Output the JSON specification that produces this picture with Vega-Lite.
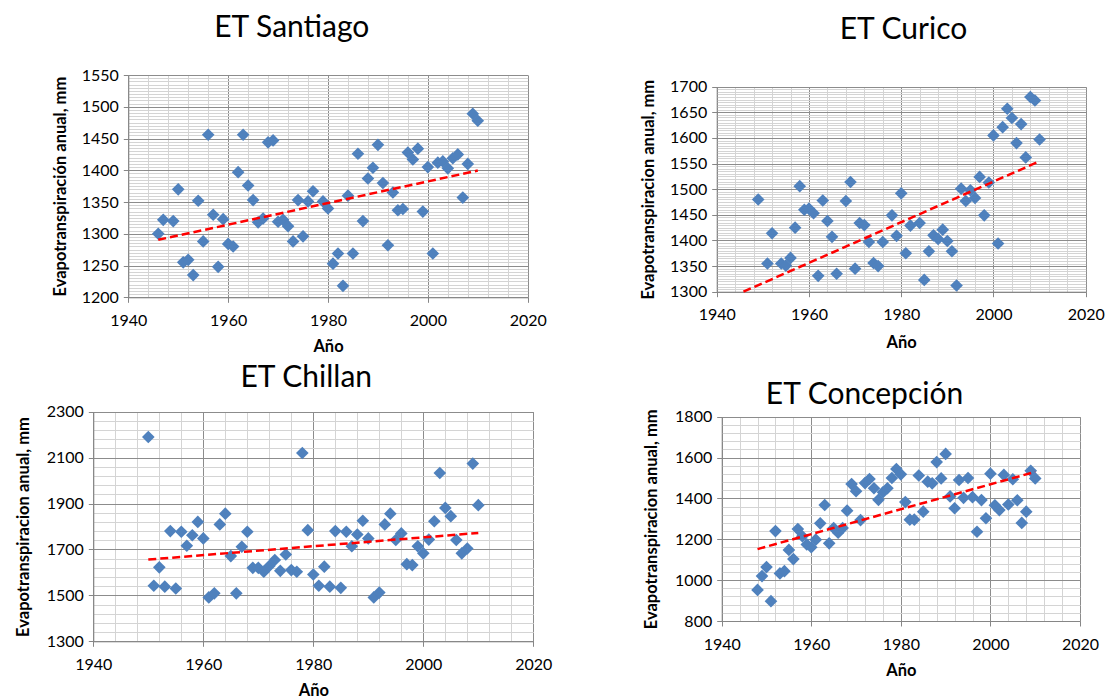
{
  "$schema": "https://vega.github.io/schema/vega-lite/v6.json",
  "width": 1109,
  "height": 699,
  "autosize": {"type": "none"},
  "padding": 0,
  "background": "white",
  "config": {
    "font": "Lato",
    "view": {"stroke": null},
    "axis": {
      "labelFont": "Lato", "titleFont": "Lato", "labelFontSize": 16, "labelColor": "#000000",
      "titleColor": "#000000", "titleFontSize": 16.5, "titleFontWeight": "bold",
      "domainColor": "#868686", "tickColor": "#868686", "tickSize": 5,
      "labelOverlap": false, "labelFlush": false, "labelBound": false, "gridWidth": 1, "gridOpacity": 1
    }
  },
  "datasets": {
    "santiago": [
      {"year":1946,"et":1300},{"year":1947,"et":1322},{"year":1949,"et":1320},{"year":1950,"et":1370},{"year":1951,"et":1255},
      {"year":1952,"et":1259},{"year":1953,"et":1235},{"year":1954,"et":1352},{"year":1955,"et":1288},{"year":1956,"et":1456},
      {"year":1957,"et":1330},{"year":1958,"et":1248},{"year":1959,"et":1323},{"year":1960,"et":1284},{"year":1961,"et":1280},
      {"year":1962,"et":1397},{"year":1963,"et":1456},{"year":1964,"et":1376},{"year":1965,"et":1353},{"year":1966,"et":1318},
      {"year":1967,"et":1324},{"year":1968,"et":1444},{"year":1969,"et":1447},{"year":1970,"et":1319},{"year":1971,"et":1322},
      {"year":1972,"et":1312},{"year":1973,"et":1288},{"year":1974,"et":1353},{"year":1975,"et":1296},{"year":1976,"et":1351},
      {"year":1977,"et":1367},{"year":1979,"et":1351},{"year":1980,"et":1340},{"year":1981,"et":1253},{"year":1982,"et":1269},
      {"year":1983,"et":1218},{"year":1984,"et":1360},{"year":1985,"et":1269},{"year":1986,"et":1426},{"year":1987,"et":1320},
      {"year":1988,"et":1387},{"year":1989,"et":1404},{"year":1990,"et":1440},{"year":1991,"et":1380},{"year":1992,"et":1282},
      {"year":1993,"et":1365},{"year":1994,"et":1337},{"year":1995,"et":1339},{"year":1996,"et":1428},{"year":1997,"et":1417},
      {"year":1998,"et":1434},{"year":1999,"et":1335},{"year":2000,"et":1405},{"year":2001,"et":1269},{"year":2002,"et":1412},
      {"year":2003,"et":1414},{"year":2004,"et":1403},{"year":2005,"et":1419},{"year":2006,"et":1425},{"year":2007,"et":1357},
      {"year":2008,"et":1410},{"year":2009,"et":1489},{"year":2010,"et":1478}
    ],
    "curico": [
      {"year":1949,"et":1480},{"year":1951,"et":1355},{"year":1952,"et":1414},{"year":1954,"et":1355},{"year":1955,"et":1351},
      {"year":1956,"et":1366},{"year":1957,"et":1425},{"year":1958,"et":1506},{"year":1959,"et":1460},{"year":1960,"et":1462},
      {"year":1961,"et":1453},{"year":1962,"et":1331},{"year":1963,"et":1478},{"year":1964,"et":1438},{"year":1965,"et":1407},
      {"year":1966,"et":1335},{"year":1968,"et":1477},{"year":1969,"et":1514},{"year":1970,"et":1345},{"year":1971,"et":1434},
      {"year":1972,"et":1430},{"year":1973,"et":1397},{"year":1974,"et":1356},{"year":1975,"et":1350},{"year":1976,"et":1397},
      {"year":1978,"et":1449},{"year":1979,"et":1409},{"year":1980,"et":1492},{"year":1981,"et":1375},{"year":1982,"et":1429},
      {"year":1984,"et":1434},{"year":1985,"et":1323},{"year":1986,"et":1379},{"year":1987,"et":1410},{"year":1988,"et":1403},
      {"year":1989,"et":1421},{"year":1990,"et":1399},{"year":1991,"et":1379},{"year":1992,"et":1312},{"year":1993,"et":1501},
      {"year":1994,"et":1477},{"year":1995,"et":1498},{"year":1996,"et":1483},{"year":1997,"et":1524},{"year":1998,"et":1449},
      {"year":1999,"et":1513},{"year":2000,"et":1605},{"year":2001,"et":1394},{"year":2002,"et":1621},{"year":2003,"et":1657},
      {"year":2004,"et":1639},{"year":2005,"et":1590},{"year":2006,"et":1627},{"year":2007,"et":1562},{"year":2008,"et":1680},
      {"year":2009,"et":1673},{"year":2010,"et":1597}
    ],
    "chillan": [
      {"year":1950,"et":2190},{"year":1951,"et":1542},{"year":1952,"et":1622},{"year":1953,"et":1538},{"year":1954,"et":1780},
      {"year":1955,"et":1530},{"year":1956,"et":1777},{"year":1957,"et":1716},{"year":1958,"et":1762},{"year":1959,"et":1820},
      {"year":1960,"et":1748},{"year":1961,"et":1491},{"year":1962,"et":1509},{"year":1963,"et":1809},{"year":1964,"et":1856},
      {"year":1965,"et":1671},{"year":1966,"et":1509},{"year":1967,"et":1712},{"year":1968,"et":1777},{"year":1969,"et":1620},
      {"year":1970,"et":1620},{"year":1971,"et":1603},{"year":1972,"et":1628},{"year":1973,"et":1654},{"year":1974,"et":1607},
      {"year":1975,"et":1678},{"year":1976,"et":1610},{"year":1977,"et":1603},{"year":1978,"et":2120},{"year":1979,"et":1784},
      {"year":1980,"et":1591},{"year":1981,"et":1542},{"year":1982,"et":1625},{"year":1983,"et":1538},{"year":1984,"et":1780},
      {"year":1985,"et":1533},{"year":1986,"et":1777},{"year":1987,"et":1714},{"year":1988,"et":1765},{"year":1989,"et":1825},
      {"year":1990,"et":1748},{"year":1991,"et":1491},{"year":1992,"et":1512},{"year":1993,"et":1809},{"year":1994,"et":1856},
      {"year":1995,"et":1741},{"year":1996,"et":1770},{"year":1997,"et":1636},{"year":1998,"et":1632},{"year":1999,"et":1714},
      {"year":2000,"et":1683},{"year":2001,"et":1743},{"year":2002,"et":1823},{"year":2003,"et":2033},{"year":2004,"et":1881},
      {"year":2005,"et":1845},{"year":2006,"et":1741},{"year":2007,"et":1683},{"year":2008,"et":1704},{"year":2009,"et":2074},
      {"year":2010,"et":1893}
    ],
    "concepcion": [
      {"year":1948,"et":952},{"year":1949,"et":1020},{"year":1950,"et":1064},{"year":1951,"et":897},{"year":1952,"et":1240},
      {"year":1953,"et":1033},{"year":1954,"et":1044},{"year":1955,"et":1148},{"year":1956,"et":1103},{"year":1957,"et":1250},
      {"year":1958,"et":1215},{"year":1959,"et":1175},{"year":1960,"et":1161},{"year":1961,"et":1198},{"year":1962,"et":1278},
      {"year":1963,"et":1368},{"year":1964,"et":1180},{"year":1965,"et":1255},{"year":1966,"et":1232},{"year":1967,"et":1255},
      {"year":1968,"et":1340},{"year":1969,"et":1470},{"year":1970,"et":1435},{"year":1971,"et":1294},{"year":1972,"et":1475},
      {"year":1973,"et":1495},{"year":1974,"et":1450},{"year":1975,"et":1393},{"year":1976,"et":1430},{"year":1977,"et":1450},
      {"year":1978,"et":1500},{"year":1979,"et":1544},{"year":1980,"et":1518},{"year":1981,"et":1382},{"year":1982,"et":1296},
      {"year":1983,"et":1296},{"year":1984,"et":1512},{"year":1985,"et":1335},{"year":1986,"et":1482},{"year":1987,"et":1474},
      {"year":1988,"et":1578},{"year":1989,"et":1498},{"year":1990,"et":1618},{"year":1991,"et":1410},{"year":1992,"et":1352},
      {"year":1993,"et":1490},{"year":1994,"et":1403},{"year":1995,"et":1500},{"year":1996,"et":1406},{"year":1997,"et":1237},
      {"year":1998,"et":1392},{"year":1999,"et":1303},{"year":2000,"et":1521},{"year":2001,"et":1366},{"year":2002,"et":1343},
      {"year":2003,"et":1515},{"year":2004,"et":1370},{"year":2005,"et":1494},{"year":2006,"et":1391},{"year":2007,"et":1280},
      {"year":2008,"et":1335},{"year":2009,"et":1535},{"year":2010,"et":1498}
    ],
    "trend_santiago": [{"year":1946,"et":1290.5},{"year":2010,"et":1399.5}],
    "trend_curico": [{"year":1945.8,"et":1300},{"year":2010,"et":1554.5}],
    "trend_chillan": [{"year":1950,"et":1656},{"year":2010,"et":1772}],
    "trend_concepcion": [{"year":1948,"et":1152},{"year":2010,"et":1530}]
  },
  "layer": [
    {
      "data": {"name": "santiago"},
      "mark": {"type": "point", "shape": "diamond", "filled": true, "size": 160, "color": "#4F81BD", "opacity": 1},
      "encoding": {
        "x": {"field": "year", "type": "quantitative",
          "scale": {"domain": [1940, 2020], "range": [128.3, 527.7], "nice": false, "zero": false},
          "axis": {"orient": "bottom", "offset": -401.7, "values": [1940, 1960, 1980, 2000, 2020], "format": "d", "grid": false,
            "labelPadding": 10, "title": "Año", "titlePadding": 10}},
        "y": {"field": "et", "type": "quantitative",
          "scale": {"domain": [1200, 1550], "range": [297.3, 75], "nice": false, "zero": false},
          "axis": {"orient": "left", "offset": -128.3,
            "values": [1200,1205,1210,1215,1220,1225,1230,1235,1240,1245,1250,1255,1260,1265,1270,1275,1280,1285,1290,1295,1300,1305,1310,1315,1320,1325,1330,1335,1340,1345,1350,1355,1360,1365,1370,1375,1380,1385,1390,1395,1400,1405,1410,1415,1420,1425,1430,1435,1440,1445,1450,1455,1460,1465,1470,1475,1480,1485,1490,1495,1500,1505,1510,1515,1520,1525,1530,1535,1540,1545,1550],
            "format": "d", "labelExpr": "datum.value % 50 === 0 ? datum.label : ''",
            "grid": true,
            "gridColor": {"condition": {"test": "datum.value % 50 === 0", "value": "#8C8C8C"}, "value": "#D4D4D4"},
            "tickOpacity": {"condition": {"test": "datum.value % 50 === 0", "value": 1}, "value": 0},
            "labelPadding": 5, "title": "Evapotranspiración anual, mm", "titlePadding": 13}}
      }
    },
    {
      "data": {"name": "trend_santiago"},
      "mark": {"type": "line", "color": "#FF0000", "strokeWidth": 2.5, "strokeDash": [8, 4]},
      "encoding": {
        "x": {"field": "year", "type": "quantitative",
          "scale": {"domain": [1940, 2020], "range": [128.3, 527.7], "nice": false, "zero": false},
          "axis": {"orient": "top", "offset": -75,
            "values": [1940,1944,1948,1952,1956,1960,1964,1968,1972,1976,1980,1984,1988,1992,1996,2000,2004,2008,2012,2016,2020],
            "grid": true,
            "gridColor": {"condition": {"test": "datum.value % 20 === 0", "value": "#8C8C8C"}, "value": "#D4D4D4"},
            "labels": false, "ticks": false, "domain": false,
            "title": "ET Santiago", "titleFontSize": 30, "titleFontWeight": "normal",
            "titleX": 291.3, "titleY": -39, "titleAlign": "center", "titleBaseline": "alphabetic"}},
        "y": {"field": "et", "type": "quantitative",
          "scale": {"domain": [1200, 1550], "range": [297.3, 75], "nice": false, "zero": false},
          "axis": null}
      }
    },
    {
      "data": {"name": "curico"},
      "mark": {"type": "point", "shape": "diamond", "filled": true, "size": 160, "color": "#4F81BD", "opacity": 1},
      "encoding": {
        "x": {"field": "year", "type": "quantitative",
          "scale": {"domain": [1940, 2020], "range": [716.7, 1085.7], "nice": false, "zero": false},
          "axis": {"orient": "bottom", "offset": -407.3, "values": [1940, 1960, 1980, 2000, 2020], "format": "d", "grid": false,
            "labelPadding": 10, "title": "Año", "titlePadding": 12}},
        "y": {"field": "et", "type": "quantitative",
          "scale": {"domain": [1300, 1700], "range": [291.7, 86.7], "nice": false, "zero": false},
          "axis": {"orient": "left", "offset": -716.7,
            "values": [1300,1305,1310,1315,1320,1325,1330,1335,1340,1345,1350,1355,1360,1365,1370,1375,1380,1385,1390,1395,1400,1405,1410,1415,1420,1425,1430,1435,1440,1445,1450,1455,1460,1465,1470,1475,1480,1485,1490,1495,1500,1505,1510,1515,1520,1525,1530,1535,1540,1545,1550,1555,1560,1565,1570,1575,1580,1585,1590,1595,1600,1605,1610,1615,1620,1625,1630,1635,1640,1645,1650,1655,1660,1665,1670,1675,1680,1685,1690,1695,1700],
            "format": "d", "labelExpr": "datum.value % 50 === 0 ? datum.label : ''",
            "grid": true,
            "gridColor": {"condition": {"test": "datum.value % 50 === 0", "value": "#8C8C8C"}, "value": "#D4D4D4"},
            "tickOpacity": {"condition": {"test": "datum.value % 50 === 0", "value": 1}, "value": 0},
            "labelPadding": 5, "title": "Evapotranspiracion anual, mm", "titlePadding": 13}}
      }
    },
    {
      "data": {"name": "trend_curico"},
      "mark": {"type": "line", "color": "#FF0000", "strokeWidth": 2.5, "strokeDash": [8, 4]},
      "encoding": {
        "x": {"field": "year", "type": "quantitative",
          "scale": {"domain": [1940, 2020], "range": [716.7, 1085.7], "nice": false, "zero": false},
          "axis": {"orient": "top", "offset": -86.7,
            "values": [1940,1944,1948,1952,1956,1960,1964,1968,1972,1976,1980,1984,1988,1992,1996,2000,2004,2008,2012,2016,2020],
            "grid": true,
            "gridColor": {"condition": {"test": "datum.value % 20 === 0", "value": "#8C8C8C"}, "value": "#D4D4D4"},
            "labels": false, "ticks": false, "domain": false,
            "title": "ET Curico", "titleFontSize": 30, "titleFontWeight": "normal",
            "titleX": 903, "titleY": -48, "titleAlign": "center", "titleBaseline": "alphabetic"}},
        "y": {"field": "et", "type": "quantitative",
          "scale": {"domain": [1300, 1700], "range": [291.7, 86.7], "nice": false, "zero": false},
          "axis": null}
      }
    },
    {
      "data": {"name": "chillan"},
      "mark": {"type": "point", "shape": "diamond", "filled": true, "size": 160, "color": "#4F81BD", "opacity": 1},
      "encoding": {
        "x": {"field": "year", "type": "quantitative",
          "scale": {"domain": [1940, 2020], "range": [93.3, 533.3], "nice": false, "zero": false},
          "axis": {"orient": "bottom", "offset": -57.7, "values": [1940, 1960, 1980, 2000, 2020], "format": "d", "grid": false,
            "labelPadding": 10, "title": "Año", "titlePadding": 10}},
        "y": {"field": "et", "type": "quantitative",
          "scale": {"domain": [1300, 2300], "range": [641.3, 411.7], "nice": false, "zero": false},
          "axis": {"orient": "left", "offset": -93.3,
            "values": [1300,1340,1380,1420,1460,1500,1540,1580,1620,1660,1700,1740,1780,1820,1860,1900,1940,1980,2020,2060,2100,2140,2180,2220,2260,2300],
            "format": "d", "labelExpr": "datum.value % 200 === 100 ? datum.label : ''",
            "grid": true,
            "gridColor": {"condition": {"test": "datum.value % 200 === 100", "value": "#8C8C8C"}, "value": "#D4D4D4"},
            "tickOpacity": {"condition": {"test": "datum.value % 200 === 100", "value": 1}, "value": 0},
            "labelPadding": 5, "title": "Evapotranspiracion anual, mm", "titlePadding": 15}}
      }
    },
    {
      "data": {"name": "trend_chillan"},
      "mark": {"type": "line", "color": "#FF0000", "strokeWidth": 2.5, "strokeDash": [8, 4]},
      "encoding": {
        "x": {"field": "year", "type": "quantitative",
          "scale": {"domain": [1940, 2020], "range": [93.3, 533.3], "nice": false, "zero": false},
          "axis": {"orient": "top", "offset": -411.7,
            "values": [1940,1944,1948,1952,1956,1960,1964,1968,1972,1976,1980,1984,1988,1992,1996,2000,2004,2008,2012,2016,2020],
            "grid": true,
            "gridColor": {"condition": {"test": "datum.value % 20 === 0", "value": "#8C8C8C"}, "value": "#D4D4D4"},
            "labels": false, "ticks": false, "domain": false,
            "title": "ET Chillan", "titleFontSize": 30, "titleFontWeight": "normal",
            "titleX": 305.8, "titleY": -25, "titleAlign": "center", "titleBaseline": "alphabetic"}},
        "y": {"field": "et", "type": "quantitative",
          "scale": {"domain": [1300, 2300], "range": [641.3, 411.7], "nice": false, "zero": false},
          "axis": null}
      }
    },
    {
      "data": {"name": "concepcion"},
      "mark": {"type": "point", "shape": "diamond", "filled": true, "size": 160, "color": "#4F81BD", "opacity": 1},
      "encoding": {
        "x": {"field": "year", "type": "quantitative",
          "scale": {"domain": [1940, 2020], "range": [721.7, 1080], "nice": false, "zero": false},
          "axis": {"orient": "bottom", "offset": -78, "values": [1940, 1960, 1980, 2000, 2020], "format": "d", "grid": false,
            "labelPadding": 10, "title": "Año", "titlePadding": 10}},
        "y": {"field": "et", "type": "quantitative",
          "scale": {"domain": [800, 1800], "range": [621, 416.7], "nice": false, "zero": false},
          "axis": {"orient": "left", "offset": -721.7,
            "values": [800,840,880,920,960,1000,1040,1080,1120,1160,1200,1240,1280,1320,1360,1400,1440,1480,1520,1560,1600,1640,1680,1720,1760,1800],
            "format": "d", "labelExpr": "datum.value % 200 === 0 ? datum.label : ''",
            "grid": true,
            "gridColor": {"condition": {"test": "datum.value % 200 === 0", "value": "#8C8C8C"}, "value": "#D4D4D4"},
            "tickOpacity": {"condition": {"test": "datum.value % 200 === 0", "value": 1}, "value": 0},
            "labelPadding": 5, "title": "Evapotranspiracion anual, mm", "titlePadding": 15}}
      }
    },
    {
      "data": {"name": "trend_concepcion"},
      "mark": {"type": "line", "color": "#FF0000", "strokeWidth": 2.5, "strokeDash": [8, 4]},
      "encoding": {
        "x": {"field": "year", "type": "quantitative",
          "scale": {"domain": [1940, 2020], "range": [721.7, 1080], "nice": false, "zero": false},
          "axis": {"orient": "top", "offset": -416.7,
            "values": [1940,1944,1948,1952,1956,1960,1964,1968,1972,1976,1980,1984,1988,1992,1996,2000,2004,2008,2012,2016,2020],
            "grid": true,
            "gridColor": {"condition": {"test": "datum.value % 20 === 0", "value": "#8C8C8C"}, "value": "#D4D4D4"},
            "labels": false, "ticks": false, "domain": false,
            "title": "ET Concepción", "titleFontSize": 30, "titleFontWeight": "normal",
            "titleX": 864, "titleY": -13.7, "titleAlign": "center", "titleBaseline": "alphabetic"}},
        "y": {"field": "et", "type": "quantitative",
          "scale": {"domain": [800, 1800], "range": [621, 416.7], "nice": false, "zero": false},
          "axis": null}
      }
    }
  ],
  "resolve": {
    "scale": {"x": "independent", "y": "independent"},
    "axis": {"x": "independent", "y": "independent"}
  }
}
